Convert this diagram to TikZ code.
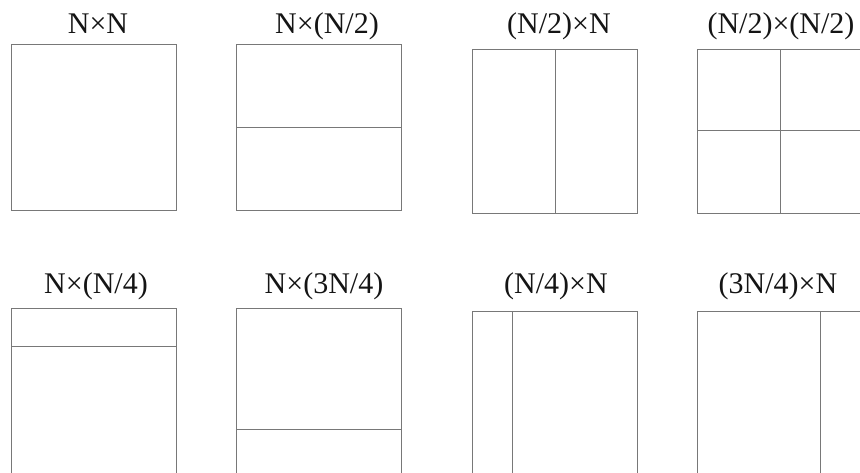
\documentclass[tikz,border=0pt]{standalone}
\usepackage{fontspec}
\setmainfont{Liberation Serif}
\begin{document}
\begin{tikzpicture}[x=1pt,y=-1pt,
  frame/.style={draw={rgb,255:red,120;green,120;blue,120},line width=1pt},
  lbl/.style={anchor=base,inner sep=0pt,text={rgb,255:red,20;green,20;blue,20},font=\fontsize{30}{36}\selectfont}]
\useasboundingbox (0,0) rectangle (860,473);
\clip (0,0) rectangle (860,473);
% top row
\node[lbl] (l1) at (98,33.5) {N×N};
\node[lbl] (l2) at (327,33.5) {N×(N/2)};
\node[lbl] (l3) at (559,34) {(N/2)×N};
\node[lbl] (l4) at (781,34) {(N/2)×(N/2)};
\draw[frame] (11,45) rectangle (176,210.5);
\draw[frame] (236,45) rectangle (401,210.5);
\draw[frame] (236,127.5) -- (401,127.5);
\draw[frame] (472.7,49.3) rectangle (637.7,213.3);
\draw[frame] (555,49.3) -- (555,213.3);
\draw[frame] (697.7,49.3) rectangle (862.7,213.3);
\draw[frame] (780,49.3) -- (780,213.3);
\draw[frame] (697.7,131) -- (862.7,131);
% bottom row
\node[lbl] (l5) at (96,293.3) {N×(N/4)};
\node[lbl] (l6) at (324,293.3) {N×(3N/4)};
\node[lbl] (l7) at (556,294) {(N/4)×N};
\node[lbl] (l8) at (778,294) {(3N/4)×N};
\draw[frame] (11,308.3) rectangle (176,473.3);
\draw[frame] (11,346.7) -- (176,346.7);
\draw[frame] (236,308.3) rectangle (401,473.3);
\draw[frame] (236,429) -- (401,429);
\draw[frame] (472.7,311.7) rectangle (637.7,476.7);
\draw[frame] (512.3,311.7) -- (512.3,476.7);
\draw[frame] (697.7,311.7) rectangle (862.7,476.7);
\draw[frame] (820,311.7) -- (820,476.7);
\end{tikzpicture}
\end{document}
